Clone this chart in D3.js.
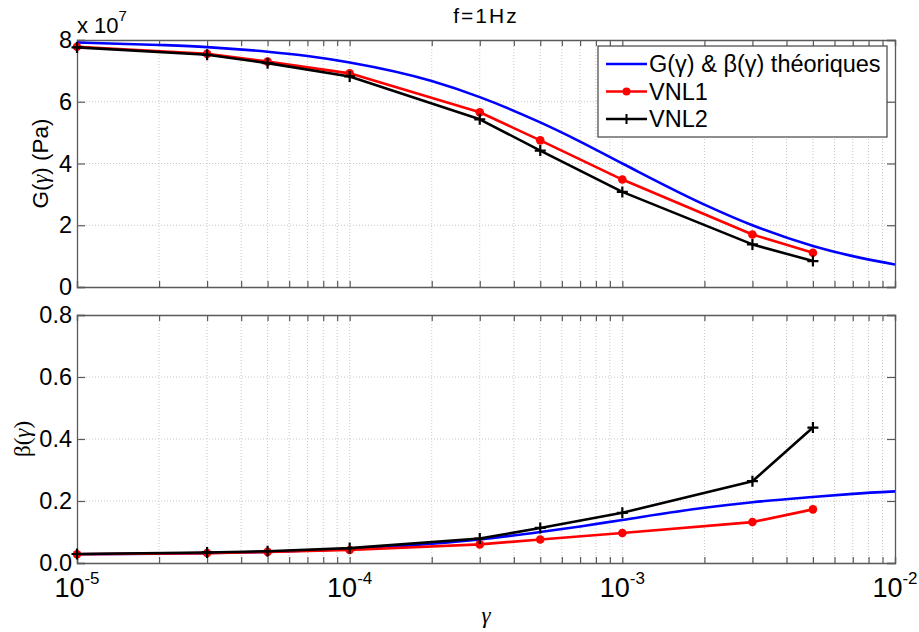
<!DOCTYPE html>
<html>
<head>
<meta charset="utf-8">
<script src="https://cdn.jsdelivr.net/npm/d3@7"></script>
<style>
  html, body { margin: 0; padding: 0; background: #fff; }
  svg { display: block; font-family: "Liberation Sans", Arial, sans-serif; }
</style>
</head>
<body>
<svg id="chart" width="919" height="632"></svg>
<script>
// Shear-strain amplitudes of the measured points
const gammaPts = [1e-5, 3e-5, 5e-5, 1e-4, 3e-4, 5e-4, 1e-3, 3e-3, 5e-3];
// Shear modulus G (×1e7 Pa)
const gVNL1 = [7.78, 7.55, 7.30, 6.92, 5.66, 4.75, 3.48, 1.70, 1.11];
const gVNL2 = [7.76, 7.52, 7.25, 6.82, 5.43, 4.42, 3.08, 1.38, 0.84];
// Damping ratio beta
const bVNL1 = [0.028, 0.032, 0.036, 0.042, 0.060, 0.076, 0.097, 0.132, 0.173];
const bVNL2 = [0.029, 0.034, 0.038, 0.048, 0.079, 0.113, 0.162, 0.264, 0.437];

// Theoretical curves
const thGamma = [1e-5, 2e-5, 3e-5, 5e-5, 7e-5, 1e-4, 2e-4, 3e-4, 5e-4, 7e-4, 1e-3, 2e-3, 3e-3, 5e-3, 7e-3, 1e-2];
const gTheo = [7.92, 7.84, 7.77, 7.62, 7.48, 7.27, 6.67, 6.15, 5.33, 4.71, 4.00, 2.67, 2.00, 1.33, 1.00, 0.73];
const bTheo = [0.028, 0.030, 0.032, 0.036, 0.040, 0.045, 0.062, 0.076, 0.100, 0.118, 0.139, 0.178, 0.196, 0.213, 0.223, 0.231];

// Axis ticks
const xTickExps = [-5, -4, -3, -2];
const gTicks = [0, 2, 4, 6, 8];
const bTicks = [0, 0.2, 0.4, 0.6, 0.8];
const legendLabels = ["G(γ) & β(γ) théoriques", "VNL1", "VNL2"];

const svg = d3.select("#chart");
const L = 77, R = 895;
const topPanel = { y0: 40, y1: 287 };
const botPanel = { y0: 315, y1: 563 };

const x = d3.scaleLog().domain([1e-5, 1e-2]).range([L, R]);
const yG = d3.scaleLinear().domain([0, 8]).range([topPanel.y1, topPanel.y0]);
const yB = d3.scaleLinear().domain([0, 0.8]).range([botPanel.y1, botPanel.y0]);

const minorX = [];
for (let e = -5; e < -2; e++) for (let k = 1; k <= 9; k++) minorX.push(k * Math.pow(10, e));
minorX.push(1e-2);

const axisColor = "#5a5a5a";
const gridColor = "#c8c8c8";

function panel(p, y, yTicks, yFmt) {
  const g = svg.append("g");
  // vertical grid (major + minor decades)
  g.selectAll("line.vg").data(minorX.filter(v => v > 1e-5 && v < 1e-2)).join("line")
    .attr("x1", d => x(d)).attr("x2", d => x(d))
    .attr("y1", p.y0).attr("y2", p.y1)
    .attr("stroke", gridColor).attr("stroke-width", 1).attr("stroke-dasharray", "1,2");
  // horizontal grid
  g.selectAll("line.hg").data(yTicks.slice(1, -1)).join("line")
    .attr("x1", L).attr("x2", R)
    .attr("y1", d => y(d)).attr("y2", d => y(d))
    .attr("stroke", gridColor).attr("stroke-width", 1).attr("stroke-dasharray", "1,2");

  // axes via d3 (inward ticks)
  const yAxisL = d3.axisLeft(y).tickValues(yTicks).tickSize(-8).tickPadding(5).tickFormat(yFmt);
  const yAxisR = d3.axisRight(y).tickValues(yTicks).tickSize(-8).tickFormat("");
  const xAxisB = d3.axisBottom(x).tickValues(minorX).tickSize(-6).tickFormat("");
  const xAxisT = d3.axisTop(x).tickValues(minorX).tickSize(-6).tickFormat("");

  const aL = g.append("g").attr("transform", `translate(${L},0)`).call(yAxisL);
  const aR = g.append("g").attr("transform", `translate(${R},0)`).call(yAxisR);
  const aB = g.append("g").attr("transform", `translate(0,${p.y1})`).call(xAxisB);
  const aT = g.append("g").attr("transform", `translate(0,${p.y0})`).call(xAxisT);
  [aL, aR, aB, aT].forEach(a => {
    a.select(".domain").attr("stroke", axisColor).attr("stroke-width", 1.3);
    a.selectAll(".tick line").attr("stroke", axisColor).attr("stroke-width", 1.2);
  });
  aL.selectAll(".tick text").attr("font-size", 23.5).attr("fill", "#000")
    .attr("font-family", "Liberation Sans, Arial, sans-serif");
  return g;
}

panel(topPanel, yG, gTicks, d => d3.format("d")(d));
panel(botPanel, yB, bTicks, d => d3.format(".1f")(d));

// x tick labels 10^n below the lower panel
const xl = svg.append("g");
xTickExps.forEach(e => {
  const t = xl.append("text")
    .attr("x", x(Math.pow(10, e))).attr("y", 597)
    .attr("text-anchor", "middle").attr("font-size", 27).attr("fill", "#000");
  t.append("tspan").text("10");
  t.append("tspan").attr("dy", -13).attr("font-size", 17).text(String(e));
});

// clipping for series
svg.append("clipPath").attr("id", "clipTop").append("rect")
  .attr("x", L - 6).attr("y", topPanel.y0 - 6).attr("width", R - L + 6).attr("height", topPanel.y1 - topPanel.y0 + 12);
svg.append("clipPath").attr("id", "clipBot").append("rect")
  .attr("x", L - 6).attr("y", botPanel.y0 - 6).attr("width", R - L + 6).attr("height", botPanel.y1 - botPanel.y0 + 12);

function series(y, xs, ys, color, marker, clip, smooth) {
  const g = svg.append("g").attr("clip-path", `url(#${clip})`);
  const line = d3.line().x((d, i) => x(xs[i])).y(d => y(d));
  if (smooth) line.curve(d3.curveMonotoneX);
  g.append("path").datum(ys).attr("d", line)
    .attr("fill", "none").attr("stroke", color).attr("stroke-width", 2.6)
    .attr("stroke-linejoin", "round");
  if (marker === "dot") {
    g.selectAll("circle").data(ys).join("circle")
      .attr("cx", (d, i) => x(xs[i])).attr("cy", d => y(d)).attr("r", 4.3).attr("fill", color);
  } else if (marker === "plus") {
    const s = 5.5;
    g.selectAll("path.plus").data(ys).join("path").attr("class", "plus")
      .attr("d", (d, i) => {
        const cx = x(xs[i]), cy = y(d);
        return `M${cx - s},${cy}H${cx + s}M${cx},${cy - s}V${cy + s}`;
      })
      .attr("stroke", color).attr("stroke-width", 2.2).attr("fill", "none");
  }
}

series(yG, thGamma, gTheo, "#0000ff", null, "clipTop", true);
series(yG, gammaPts, gVNL1, "#ff0000", "dot", "clipTop", false);
series(yG, gammaPts, gVNL2, "#000000", "plus", "clipTop", false);

series(yB, thGamma, bTheo, "#0000ff", null, "clipBot", true);
series(yB, gammaPts, bVNL1, "#ff0000", "dot", "clipBot", false);
series(yB, gammaPts, bVNL2, "#000000", "plus", "clipBot", false);

// Title
svg.append("text").attr("x", (L + R) / 2).attr("y", 23)
  .attr("text-anchor", "middle").attr("font-size", 21).attr("letter-spacing", 2)
  .text("f=1Hz");

// exponent multiplier for G axis
const mult = svg.append("text").attr("x", 77).attr("y", 33).attr("font-size", 22);
mult.append("tspan").text("x 10");
mult.append("tspan").attr("dy", -12).attr("font-size", 15).text("7");

// y labels
const gl = svg.append("text")
  .attr("transform", `translate(48,${(topPanel.y0 + topPanel.y1) / 2}) rotate(-90)`)
  .attr("text-anchor", "middle").attr("font-size", 22.5);
gl.append("tspan").text("G(");
gl.append("tspan").attr("font-family", "Liberation Serif, serif").attr("font-style", "italic").text("γ");
gl.append("tspan").text(") (Pa)");

const bl = svg.append("text")
  .attr("transform", `translate(30,${(botPanel.y0 + botPanel.y1) / 2}) rotate(-90)`)
  .attr("text-anchor", "middle").attr("font-size", 23).attr("font-family", "Liberation Serif, serif");
bl.append("tspan").text("β(");
bl.append("tspan").attr("font-style", "italic").text("γ");
bl.append("tspan").text(")");

// x label
svg.append("text").attr("x", (L + R) / 2).attr("y", 623)
  .attr("text-anchor", "middle").attr("font-size", 23)
  .attr("font-family", "Liberation Serif, serif").attr("font-style", "italic").text("γ");

// Legend
const lg = svg.append("g");
const lx = 598, ly = 46, lw = 289, lh = 91;
lg.append("rect").attr("x", lx).attr("y", ly).attr("width", lw).attr("height", lh)
  .attr("fill", "#fff").attr("stroke", "#444").attr("stroke-width", 1.2);
const legColors = ["#0000ff", "#ff0000", "#000000"];
const legMarkers = [null, "dot", "plus"];
legendLabels.forEach((lab, i) => {
  const cy = ly + 18 + i * 27.5;
  lg.append("line").attr("x1", lx + 8).attr("x2", lx + 49).attr("y1", cy).attr("y2", cy)
    .attr("stroke", legColors[i]).attr("stroke-width", 2.6);
  if (legMarkers[i] === "dot") {
    lg.append("circle").attr("cx", lx + 28.5).attr("cy", cy).attr("r", 4).attr("fill", legColors[i]);
  } else if (legMarkers[i] === "plus") {
    lg.append("path").attr("d", `M${lx + 28.5},${cy - 5}V${cy + 5}`)
      .attr("stroke", legColors[i]).attr("stroke-width", 2);
  }
  lg.append("text").attr("x", lx + 51).attr("y", cy + 8).attr("font-size", 23.5).text(lab);
});
</script>
</body>
</html>
